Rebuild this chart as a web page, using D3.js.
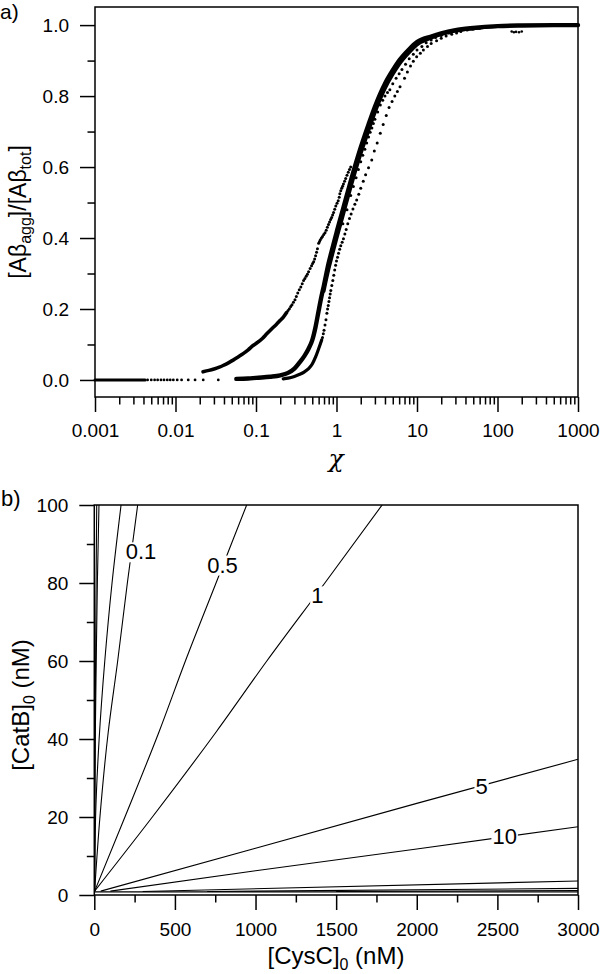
<!DOCTYPE html>
<html><head><meta charset="utf-8">
<script src="https://cdn.jsdelivr.net/npm/d3@7"></script>
<style>
body{margin:0;background:#fff;}
svg{display:block;font-family:"Liberation Sans",Arial,sans-serif;}
</style></head>
<body><svg id="c" width="600" height="974"></svg>
<script>
// ---------- Panel a data ----------
const aYTicks = [0, 0.2, 0.4, 0.6, 0.8, 1.0];
const aYMinor = [0.1, 0.3, 0.5, 0.7, 0.9];
const aXTicks = [0.001, 0.01, 0.1, 1, 10, 100, 1000];
const aXLabels = ["0.001", "0.01", "0.1", "1", "10", "100", "1000"];
const flatLine = [[0.001,0],[0.0042,0]];
const flatDots = [[0.0045,0],[0.005,0],[0.0055,0],[0.006,0],[0.0066,0],[0.0072,0],[0.0079,0],[0.0086,0],[0.0094,0],[0.0105,0],[0.0119,0],[0.0144,0],[0.0175,0],[0.0221,0],[0.034,0]];
const leftCurve = [[0.022,0.023],[0.026,0.027],[0.03,0.031],[0.035,0.036],[0.04,0.042],[0.046,0.049],[0.052,0.056],[0.06,0.065],[0.07,0.075],[0.08,0.085],[0.092,0.097],[0.102,0.104],[0.12,0.117],[0.136,0.13],[0.155,0.143],[0.18,0.157],[0.2,0.168],[0.22,0.178],[0.24,0.19]];
const leftDots = [[0.25,0.196],[0.26,0.201],[0.27,0.207],[0.28,0.212],[0.292,0.219],[0.305,0.226],[0.317,0.235],[0.33,0.245],[0.345,0.254],[0.36,0.262],[0.375,0.271],[0.39,0.28],[0.405,0.286],[0.42,0.292],[0.435,0.298],[0.45,0.305],[0.47,0.314],[0.49,0.322],[0.505,0.328],[0.52,0.333],[0.535,0.341],[0.55,0.35],[0.565,0.36],[0.58,0.37],[0.6,0.385],[0.615,0.39],[0.63,0.395],[0.65,0.4],[0.67,0.404],[0.695,0.41],[0.72,0.415],[0.745,0.422],[0.77,0.43],[0.795,0.438],[0.82,0.445],[0.845,0.452],[0.87,0.458],[0.895,0.465],[0.92,0.472],[0.95,0.481],[0.98,0.49],[1.015,0.498],[1.05,0.505],[1.08,0.515],[1.1,0.525],[1.13,0.533],[1.16,0.54],[1.19,0.546],[1.22,0.552],[1.26,0.56],[1.3,0.568],[1.35,0.577],[1.4,0.585],[1.45,0.593],[1.5,0.6]];
const midCurve = [[0.057,0.003],[0.08,0.004],[0.1,0.006],[0.15,0.009],[0.2,0.013],[0.25,0.02],[0.3,0.032],[0.35,0.05],[0.4,0.068],[0.45,0.088],[0.5,0.112],[0.55,0.15],[0.6,0.195],[0.65,0.235],[0.7,0.268],[0.8,0.33],[0.9,0.375],[1.0,0.415],[1.2,0.48],[1.5,0.56],[2.0,0.655],[2.5,0.72],[3.0,0.77],[4.0,0.835],[5.0,0.873],[6.0,0.9],[8.0,0.932],[10,0.952],[15,0.968],[20,0.977],[30,0.986],[50,0.992],[100,0.997],[200,0.999],[500,1.0],[1000,1.0]];
const midCurve2 = [[0.7,0.25],[0.8,0.31],[0.9,0.355],[1.0,0.395],[1.2,0.46],[1.5,0.54],[2.0,0.635],[2.5,0.7],[3.0,0.752],[4.0,0.82],[5.0,0.86],[6.0,0.888],[8.0,0.922],[10,0.944],[15,0.963],[20,0.973],[30,0.983],[50,0.99],[100,0.996]];
const rightCurve = [[0.218,0.003],[0.25,0.005],[0.3,0.01],[0.35,0.016],[0.4,0.023],[0.45,0.032],[0.5,0.045],[0.55,0.065],[0.6,0.088],[0.655,0.113]];
const rightDots = [[0.67,0.12],[0.686,0.13],[0.70,0.14],[0.72,0.155],[0.74,0.17],[0.76,0.188],[0.775,0.2],[0.79,0.21],[0.805,0.221],[0.82,0.232],[0.835,0.242],[0.85,0.252],[0.875,0.266],[0.9,0.28],[0.925,0.295],[0.95,0.31],[0.975,0.323],[1.0,0.335],[1.03,0.346],[1.06,0.357],[1.095,0.368],[1.13,0.378],[1.175,0.388],[1.22,0.398],[1.27,0.411],[1.32,0.424],[1.38,0.44],[1.45,0.455],[1.52,0.468],[1.6,0.482],[1.69,0.495],[1.78,0.507],[1.89,0.523],[2.0,0.54],[2.15,0.56],[2.3,0.578],[2.5,0.598],[2.74,0.62],[2.95,0.645],[3.2,0.668],[3.5,0.695],[3.8,0.72],[4.15,0.745],[4.5,0.768],[4.9,0.785],[5.3,0.8],[5.7,0.813],[6.15,0.826],[7.0,0.85],[7.6,0.868],[8.3,0.885],[9.0,0.898],[9.9,0.911],[11,0.921],[12,0.93],[13.5,0.94],[15,0.948],[17.5,0.956],[20,0.963],[23,0.969],[27,0.974],[31,0.978],[35,0.982],[42,0.986],[50,0.989],[60,0.991],[70,0.993]];
const midDots = [[1.2,0.44],[1.35,0.48],[1.5,0.52],[1.62,0.545],[1.75,0.57],[1.87,0.593],[2.0,0.615],[2.12,0.633],[2.25,0.65],[2.37,0.668],[2.5,0.685],[2.62,0.698],[2.75,0.71],[2.87,0.723],[3.0,0.735],[3.25,0.755],[3.5,0.775],[3.75,0.788],[4.0,0.8],[4.3,0.81],[4.6,0.818],[5.0,0.835],[5.5,0.85],[6.0,0.863],[6.5,0.875],[7.2,0.89],[8,0.905],[9,0.918],[10,0.93],[11.5,0.94],[13,0.95],[15,0.958],[17,0.965],[20,0.971],[25,0.978],[32,0.984],[40,0.988]];
const strayDots = [[150,0.982],[160,0.98],[170,0.981],[185,0.98],[200,0.982]];

// ---------- Panel b data ----------
const bXTicks = [0, 500, 1000, 1500, 2000, 2500, 3000];
const bXMinor = [250, 750, 1250, 1750, 2250, 2750];
const bYTicks = [0, 20, 40, 60, 80, 100];
const bYMinor = [10, 30, 50, 70, 90];
const cA = [[2,1],[3,20],[5,40],[8,60],[11,80],[15,100]];
const cB = [[2,1],[3,20],[6,40],[12,60],[19,80],[29,100]];
const cC = [[2,1],[8,20],[30,40],[65,60],[110,80],[166,100]];
const cD = [[2,1],[35,20],[87,42],[145,60],[205,80],[269,100]];
const cE = [[2,1],[190,20],[403,42],[565,60],[755,80],[945,100]];
const cF = [[2,1],[360,20],[759,42],[1070,60],[1430,80],[1785,100]];
const cG = [[40,1],[1000,12],[2000,23.5],[3000,34.8]];
const cH = [[100,1],[1000,6.2],[2000,11.8],[3000,17.5]];
const cI = [[300,0.9],[3000,3.6]];
const cJ = [[700,0.9],[3000,1.7]];
const cK = [[1500,0.9],[3000,1.15]];
const cL = [[0,0.8],[3000,0.8]];
const contourLabels = ["0.1", "0.5", "1", "5", "10"];
const labelCysC = [290, 795, 1383, 2402, 2545];
const labelCatB = [88, 84.6, 76.7, 27.7, 15];

const svg = d3.select("#c");
const FS = 19;

// ================= Panel a =================
const ax = d3.scaleLog().domain([0.001, 1000]).range([95, 578]);
const ay = d3.scaleLinear().domain([-0.048, 1.051]).range([397, 7]);
const ga = svg.append("g");

const lineA = d3.line().x(d => ax(d[0])).y(d => ay(d[1])).curve(d3.curveMonotoneX);
function dense(data, w) {
  ga.append("path").attr("d", lineA(data)).attr("fill", "none").attr("stroke", "#000")
    .attr("stroke-width", w).attr("stroke-linecap", "round");
}
function dots(data, r) {
  ga.selectAll(null).data(data).enter().append("circle")
    .attr("cx", d => ax(d[0])).attr("cy", d => ay(d[1])).attr("r", r).attr("fill", "#000");
}
dense(flatLine, 3);
dots(flatDots, 1.4);
dense(leftCurve, 3.6);
dots(leftDots, 1.5);
dense(midCurve, 4.4);
dense(midCurve2, 3);
dense(rightCurve, 3.2);
dots(rightDots, 1.5);
dots(midDots, 1.5);
dots(strayDots, 1.3);

// frame
ga.append("rect").attr("x", 95).attr("y", 7).attr("width", 578 - 95).attr("height", 397 - 7)
  .attr("fill", "none").attr("stroke", "#000").attr("stroke-width", 1.5);

// axes
const aMinorX = [];
[0.001, 0.01, 0.1, 1, 10, 100].forEach(d => { for (let k = 2; k <= 9; k++) aMinorX.push(d * k); });
function styleAxis(g) {
  g.select(".domain").remove();
  g.selectAll("line").attr("stroke", "#000").attr("stroke-width", 1.5);
  g.selectAll("text").attr("font-size", FS).attr("fill", "#000").attr("font-family", "Liberation Sans, Arial, sans-serif");
}
ga.append("g").attr("transform", "translate(95,0)")
  .call(d3.axisLeft(ay).tickValues(aYTicks).tickFormat(d3.format(".1f")).tickSize(15).tickPadding(11)).call(styleAxis);
ga.append("g").attr("transform", "translate(95,0)")
  .call(d3.axisLeft(ay).tickValues(aYMinor).tickFormat("").tickSize(7.5)).call(styleAxis);
ga.append("g").attr("transform", "translate(0,397)")
  .call(d3.axisBottom(ax).tickValues(aXTicks).tickFormat((d, i) => aXLabels[i]).tickSize(15).tickPadding(12)).call(styleAxis);
ga.append("g").attr("transform", "translate(0,397)")
  .call(d3.axisBottom(ax).tickValues(aMinorX).tickFormat("").tickSize(7.5)).call(styleAxis);

// labels
svg.append("text").attr("x", 0).attr("y", 19).attr("font-size", 21).text("a)");
svg.append("text").attr("x", 336).attr("y", 467).attr("text-anchor", "middle")
  .attr("font-size", 25).attr("font-family", "DejaVu Serif, serif").attr("font-style", "italic").text("χ");
const yl = svg.append("text").attr("transform", "translate(26,212) rotate(-90)")
  .attr("text-anchor", "middle").attr("font-size", 23);
yl.append("tspan").text("[Aβ");
yl.append("tspan").attr("dy", 5).attr("font-size", 16).text("agg");
yl.append("tspan").attr("dy", -5).text("]/[Aβ");
yl.append("tspan").attr("dy", 5).attr("font-size", 16).text("tot");
yl.append("tspan").attr("dy", -5).text("]");

// ================= Panel b =================
const bx = d3.scaleLinear().domain([0, 3000]).range([94.3, 578]);
const by = d3.scaleLinear().domain([0, 100]).range([895, 505]);
const gb = svg.append("g");
const defs = svg.append("defs");
defs.append("clipPath").attr("id", "clipb").append("rect")
  .attr("x", 94.3).attr("y", 505).attr("width", 578 - 94.3).attr("height", 390);
const lineB = d3.line().x(d => bx(d[0])).y(d => by(d[1])).curve(d3.curveMonotoneY);
const lineBx = d3.line().x(d => bx(d[0])).y(d => by(d[1]));
const gc = gb.append("g").attr("clip-path", "url(#clipb)");
[cA, cB, cC, cD, cE, cF].forEach(c => {
  gc.append("path").attr("d", lineB(c)).attr("fill", "none").attr("stroke", "#000").attr("stroke-width", 1.1);
});
[cG, cH, cI, cJ, cK, cL].forEach(c => {
  gc.append("path").attr("d", lineBx(c)).attr("fill", "none").attr("stroke", "#000").attr("stroke-width", 1.1);
});
// contour labels
contourLabels.forEach((t, i) => {
  const tx = gb.append("text").attr("x", bx(labelCysC[i])).attr("y", by(labelCatB[i]))
    .attr("text-anchor", "middle").attr("dominant-baseline", "central").attr("font-size", 22).text(t);
  const bb = tx.node().getBBox();
  gb.insert("rect", "text").attr("x", bb.x - 1).attr("y", bb.y + 3).attr("width", bb.width + 2).attr("height", bb.height - 5).attr("fill", "#fff");
});
gb.selectAll("text").raise();

gb.append("rect").attr("x", 94.3).attr("y", 505).attr("width", 578 - 94.3).attr("height", 390)
  .attr("fill", "none").attr("stroke", "#000").attr("stroke-width", 1.5);
gb.append("g").attr("transform", "translate(94.3,0)")
  .call(d3.axisLeft(by).tickValues(bYTicks).tickSize(15).tickPadding(11)).call(styleAxis);
gb.append("g").attr("transform", "translate(94.3,0)")
  .call(d3.axisLeft(by).tickValues(bYMinor).tickFormat("").tickSize(7.5)).call(styleAxis);
gb.append("g").attr("transform", "translate(0,895)")
  .call(d3.axisBottom(bx).tickValues(bXTicks).tickFormat(d3.format("d")).tickSize(15).tickPadding(13)).call(styleAxis);
gb.append("g").attr("transform", "translate(0,895)")
  .call(d3.axisBottom(bx).tickValues(bXMinor).tickFormat("").tickSize(7.5)).call(styleAxis);

svg.append("text").attr("x", 1).attr("y", 506).attr("font-size", 22).text("b)");
const xlb = svg.append("text").attr("x", 336).attr("y", 964).attr("text-anchor", "middle").attr("font-size", 24);
xlb.append("tspan").text("[CysC]");
xlb.append("tspan").attr("dy", 6).attr("font-size", 16).text("0");
xlb.append("tspan").attr("dy", -6).text(" (nM)");
const ylb = svg.append("text").attr("transform", "translate(29,705) rotate(-90)").attr("text-anchor", "middle").attr("font-size", 24);
ylb.append("tspan").text("[CatB]");
ylb.append("tspan").attr("dy", 6).attr("font-size", 16).text("0");
ylb.append("tspan").attr("dy", -6).text(" (nM)");
</script></body></html>
